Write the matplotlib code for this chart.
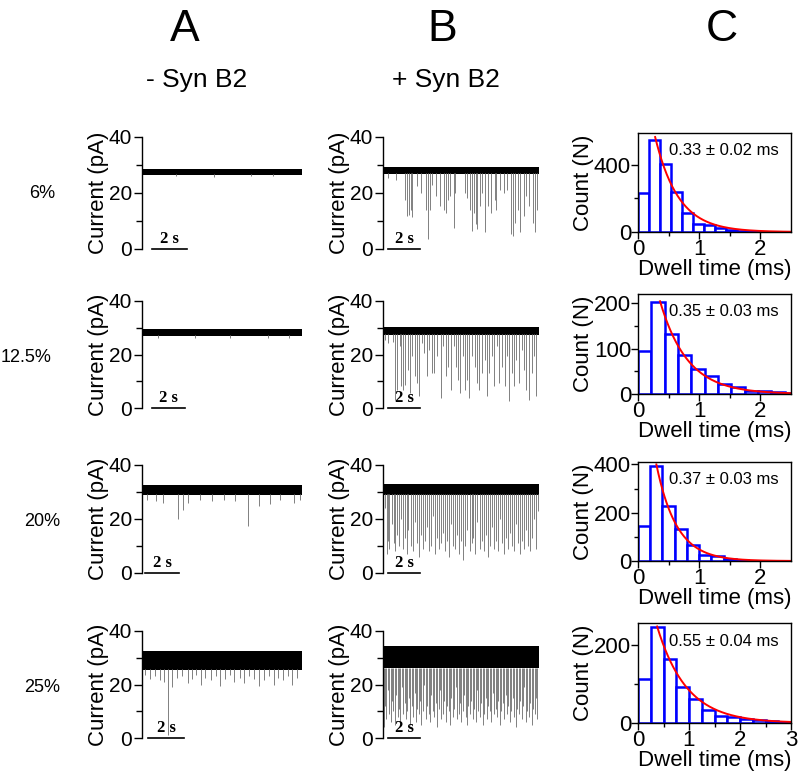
import matplotlib.pyplot as plt
import numpy as np

plt.rcParams['font.family'] = ['Liberation Sans', 'DejaVu Sans']

conc = ['6%', '12.5%', '20%', '25%']
trace_len = 10.0  # s

# noise band of every trace (pA): low, high
band_a = [(26.5, 28.4), (27.0, 29.4), (29.0, 32.6), (25.5, 32.5)]
band_b = [(26.8, 29.3), (27.2, 30.3), (28.8, 33.0), (26.0, 34.5)]

# blockade events, column A: time (s) and lowest current (pA)
a1_t = [2.1, 4.5, 6.8, 8.2]
a1_i = [26.0, 25.8, 26.1, 26.0]
a2_t = [1.0, 3.3, 5.5, 7.9, 9.2]
a2_i = [26.2, 26.0, 26.3, 26.0, 26.2]
a3_t = [0.3, 0.9, 1.3, 2.27, 2.56, 2.9, 3.6, 4.4, 5.1, 5.8, 6.63, 7.3, 8.0, 8.6, 9.5, 9.9]
a3_i = [27.2, 26.8, 26.0, 20.0, 23.5, 26.0, 27.0, 26.5, 27.2, 26.8, 17.5, 25.0, 25.5, 26.9, 26.0, 27.0]
a4_t = [0.2, 0.5, 0.8, 1.1, 1.35, 1.6, 1.9, 2.2, 2.5, 2.85, 3.1, 3.4, 3.7, 3.95, 4.3, 4.6, 4.85,
        5.2, 5.5, 5.75, 6.1, 6.4, 6.7, 7.0, 7.3, 7.6, 7.95, 8.25, 8.5, 8.8, 9.1, 9.4, 9.7]
a4_i = [23.5, 22.0, 23.0, 21.5, 21.0, 1.0, 19.0, 22.5, 23.0, 20.5, 22.0, 23.5, 20.0, 22.5, 21.5, 23.0, 19.5,
        22.0, 23.5, 21.0, 22.5, 20.5, 23.0, 22.0, 19.5, 21.5, 23.0, 20.0, 22.5, 21.5, 23.0, 20.0, 22.5]

# blockade events, column B
b1_t = [1.39, 1.54, 1.67, 1.77, 1.88, 2.18, 2.41, 2.74, 2.88, 3.03,
        3.16, 3.42, 3.63, 3.89, 4.02, 4.17, 4.32, 4.53, 4.64, 5.24,
        5.41, 5.60, 5.73, 5.81, 5.94, 6.05, 6.20, 6.37, 6.52, 6.73,
        6.94, 7.16, 7.26, 7.48, 7.74, 7.95, 8.18, 8.33, 8.44, 8.65,
        8.80, 9.02, 9.19, 9.36, 9.62, 9.72, 9.87, 0.35, 0.85]
b1_i = [17.6, 11.8, 12.0, 14.1, 11.5, 22.4, 20.0, 14.1, 3.5, 14.1,
        22.9, 18.8, 15.3, 14.1, 12.9, 17.6, 18.8, 7.6, 20.0, 20.0,
        18.2, 14.1, 6.5, 12.9, 8.8, 7.1, 15.3, 20.0, 5.9, 15.3,
        12.9, 17.6, 14.1, 21.2, 20.0, 21.2, 5.3, 4.7, 9.4, 14.1,
        5.9, 11.8, 18.8, 15.3, 9.4, 5.9, 14.1, 25.5, 24.8]
b2_t = [0.15, 0.32, 0.65, 0.80, 0.92, 1.08, 1.18, 1.31, 1.44, 1.61,
        1.74, 1.89, 2.04, 2.17, 2.30, 2.52, 2.65, 2.80, 2.95, 3.12,
        3.29, 3.44, 3.72, 3.87, 4.02, 4.19, 4.37, 4.52, 4.67, 4.80,
        4.95, 5.10, 5.23, 5.38, 5.53, 5.70, 5.87, 6.02, 6.17, 6.34,
        6.52, 6.67, 6.82, 6.99, 7.14, 7.31, 7.46, 7.63, 7.81, 7.96,
        8.06, 8.24, 8.39, 8.54, 8.71, 8.88, 9.03, 9.18, 9.35, 9.53,
        9.68, 9.83]
b2_i = [25.5, 24.2, 24.8, 3.1, 6.8, 23.0, 8.1, 6.8, 8.7, 14.3,
        5.6, 19.3, 11.8, 9.3, 4.3, 24.2, 20.5, 11.8, 21.7, 13.0,
        13.0, 19.3, 3.7, 23.0, 11.8, 15.5, 6.8, 23.0, 15.5, 10.6,
        5.6, 19.3, 6.8, 10.6, 3.7, 19.3, 15.5, 9.3, 6.8, 13.0,
        18.0, 4.3, 13.0, 19.3, 8.1, 23.0, 9.3, 15.5, 8.1, 19.3,
        2.5, 13.0, 8.1, 18.0, 9.3, 21.7, 14.3, 6.8, 3.1, 13.0,
        19.3, 4.3]
b3_t = [0.12, 0.25, 0.33, 0.41, 0.55, 0.68, 0.80, 0.92, 1.05, 1.16,
        1.30, 1.42, 1.55, 1.63, 1.78, 1.90, 2.02, 2.15, 2.30, 2.41,
        2.55, 2.68, 2.80, 2.95, 3.08, 3.20, 3.35, 3.47, 3.60, 3.72,
        3.86, 3.98, 4.10, 4.25, 4.38, 4.50, 4.62, 4.75, 4.90, 5.02,
        5.15, 5.28, 5.40, 5.55, 5.68, 5.80, 5.92, 6.05, 6.20, 6.32,
        6.45, 6.58, 6.70, 6.84, 6.96, 7.10, 7.22, 7.35, 7.48, 7.60,
        7.74, 7.86, 8.00, 8.12, 8.26, 8.38, 8.50, 8.64, 8.76, 8.90,
        9.02, 9.15, 9.28, 9.40, 9.55, 9.68, 9.80, 9.92]
b3_i = [24, 7, 12, 9, 18, 11, 8, 14, 10, 20,
        9, 13, 7, 16, 10, 8, 19, 11, 6, 14,
        9, 12, 17, 8, 10, 21, 7, 13, 9, 11,
        15, 8, 12, 6, 18, 10, 9, 14, 7, 12,
        5, 10, 16, 8, 11, 13, 7, 19, 9, 12,
        8, 14, 6, 10, 17, 9, 12, 8, 20, 11,
        7, 13, 9, 15, 10, 8, 18, 11, 7, 12,
        9, 16, 10, 8, 13, 20, 9, 23]
b4_t = [0.05, 0.14, 0.22, 0.30, 0.41, 0.49, 0.58, 0.66, 0.77, 0.85,
        0.95, 1.04, 1.12, 1.22, 1.30, 1.40, 1.48, 1.57, 1.66, 1.75,
        1.84, 1.93, 2.02, 2.10, 2.20, 2.28, 2.38, 2.46, 2.56, 2.64,
        2.74, 2.83, 2.92, 3.01, 3.10, 3.20, 3.28, 3.38, 3.47, 3.56,
        3.65, 3.74, 3.83, 3.92, 4.02, 4.10, 4.20, 4.29, 4.38, 4.47,
        4.56, 4.66, 4.74, 4.84, 4.93, 5.02, 5.11, 5.20, 5.30, 5.38,
        5.48, 5.57, 5.66, 5.75, 5.84, 5.94, 6.02, 6.12, 6.21, 6.30,
        6.39, 6.48, 6.58, 6.66, 6.76, 6.85, 6.94, 7.04, 7.12, 7.22,
        7.31, 7.40, 7.50, 7.58, 7.68, 7.77, 7.86, 7.96, 8.04, 8.14,
        8.23, 8.32, 8.42, 8.51, 8.60, 8.70, 8.78, 8.88, 8.97, 9.06,
        9.16, 9.25, 9.34, 9.44, 9.53, 9.62, 9.72, 9.80, 9.90, 9.97]
b4_i = [4, 12, 7, 18, 9, 6, 14, 10, 5, 16,
        8, 11, 6, 19, 9, 13, 7, 10, 15, 5,
        12, 8, 17, 6, 11, 9, 14, 5, 10, 20,
        7, 12, 9, 6, 16, 10, 8, 13, 4, 11,
        18, 7, 9, 14, 6, 12, 10, 5, 15, 8,
        11, 19, 7, 9, 13, 6, 10, 16, 8, 5,
        12, 9, 14, 7, 11, 6, 18, 10, 8, 13,
        5, 9, 15, 7, 12, 10, 6, 17, 9, 11,
        8, 14, 5, 10, 13, 7, 16, 9, 12, 6,
        10, 15, 8, 4, 11, 9, 14, 7, 12, 19,
        6, 10, 8, 13, 5, 11, 9, 15, 7, 4]

events_a = [(a1_t, a1_i), (a2_t, a2_i), (a3_t, a3_i), (a4_t, a4_i)]
events_b = [(b1_t, b1_i), (b2_t, b2_i), (b3_t, b3_i), (b4_t, b4_i)]

# dwell time histograms (column C)
bin_w = [0.18, 0.218, 0.2, 0.25]
h1 = [230, 546, 404, 238, 116, 50, 40, 26, 14, 8, 6, 2, 1]
h2 = [95, 203, 133, 86, 55, 40, 21, 16, 7, 7, 4, 3]
h3 = [146, 395, 227, 131, 65, 26, 20, 10, 6, 2, 1, 1]
h4 = [114, 247, 164, 94, 62, 34, 18, 15, 10, 7, 5, 3]
hists = [h1, h2, h3, h4]
fit_t0 = [0.28, 0.36, 0.30, 0.375]
fit_amp = [566, 204, 400, 249]
fit_tau = [0.38, 0.45, 0.33, 0.58]
fit_txt = ['0.33 ± 0.02 ms', '0.35 ± 0.03 ms', '0.37 ± 0.03 ms', '0.55 ± 0.04 ms']
h_ymax = [590, 220, 410, 258]
h_xmax = [2.5, 2.5, 2.5, 3]
h_major = [[0, 400], [0, 100, 200], [0, 200, 400], [0, 200]]
h_minor = [[200], [50, 150], [100, 300], [100]]

W, H = 800, 771
fig = plt.figure(figsize=(8, 7.71), dpi=100)


def box(x0, y0, x1, y1):
    return [x0 / W, 1 - y1 / H, (x1 - x0) / W, (y1 - y0) / H]


trace_rows = [(137, 249), (301, 408), (465, 573), (631, 738)]
hist_rows = [(133, 232), (294, 394), (462, 561), (623, 723)]
bar_a = [(0.6, 2.8), (0.6, 2.7), (0.2, 2.3), (0.4, 2.6)]
bar_b = [(0.3, 2.4), (0.3, 2.4), (0.3, 2.4), (0.3, 2.4)]


def trace(ax, band, ev, sbar):
    lo, hi = band
    t, i = ev
    ax.vlines(t, i, lo + 0.3, color='0.5', lw=0.7)
    ax.fill_between([0, trace_len], [lo, lo], [hi, hi], color='black', lw=0)
    ax.set_xlim(0, trace_len)
    ax.set_ylim(0, 40)
    for s in ['top', 'right', 'bottom']:
        ax.spines[s].set_visible(False)
    ax.spines['left'].set_linewidth(1)
    ax.set_xticks([])
    ax.set_yticks([0, 20, 40])
    ax.set_yticks([10, 30], minor=True)
    ax.tick_params(axis='y', which='major', length=6, width=1, labelsize=15, pad=1)
    ax.tick_params(axis='y', which='minor', length=4, width=1)
    ax.set_ylabel('Current (pA)', fontsize=16, labelpad=0)
    ax.plot(sbar, [0, 0], color='black', lw=1.2, clip_on=False)
    ax.text(sum(sbar) / 2, 0.8, '2 s', ha='center', va='bottom', fontsize=12,
            fontweight='bold', family='Liberation Serif')


for r in range(4):
    y0, y1 = trace_rows[r]
    axa = fig.add_axes(box(142, y0, 302, y1))
    trace(axa, band_a[r], events_a[r], bar_a[r])
    axb = fig.add_axes(box(383, y0, 539, y1))
    trace(axb, band_b[r], events_b[r], bar_b[r])

    if r == 1:
        fig.text(1 / W, 1 - (y0 + 56) / H, conc[r], ha='left', va='center', fontsize=13)
    else:
        fig.text(42 / W, 1 - (y0 + 56) / H, conc[r], ha='center', va='center', fontsize=13)

    hy0, hy1 = hist_rows[r]
    axc = fig.add_axes(box(638, hy0, 791, hy1))
    counts = hists[r]
    edges = np.arange(len(counts)) * bin_w[r]
    axc.bar(edges, counts, width=bin_w[r], align='edge', facecolor='white',
            edgecolor='blue', lw=1.8)
    tt = np.linspace(fit_t0[r], h_xmax[r], 200)
    axc.plot(tt, fit_amp[r] * np.exp(-(tt - fit_t0[r]) / fit_tau[r]), color='red', lw=1.4)
    axc.set_xlim(0, h_xmax[r])
    axc.set_ylim(0, h_ymax[r])
    axc.set_xticks(list(range(int(h_xmax[r]) + 1)))
    axc.set_xticks(np.arange(0.5, h_xmax[r], 1.0), minor=True)
    axc.set_yticks(h_major[r])
    axc.set_yticks(h_minor[r], minor=True)
    axc.tick_params(which='major', length=5, width=1, labelsize=16, pad=0)
    axc.tick_params(which='minor', length=3, width=1)
    for s in axc.spines.values():
        s.set_linewidth(1)
    axc.set_xlabel('Dwell time (ms)', fontsize=16, labelpad=-1)
    axc.set_ylabel('Count (N)', fontsize=16, labelpad=0)
    axc.text(0.2, 0.82, fit_txt[r], transform=axc.transAxes, fontsize=12, va='center')

for x, s in [(185, 'A'), (442, 'B'), (722, 'C')]:
    fig.text(x / W, 1 - 41 / H, s, ha='center', va='baseline', fontsize=32)
fig.text(197 / W, 1 - 80 / H, '- Syn B2', ha='center', va='center', fontsize=19)
fig.text(446 / W, 1 - 80 / H, '+ Syn B2', ha='center', va='center', fontsize=19)

fig.savefig('out.png', dpi=100)
